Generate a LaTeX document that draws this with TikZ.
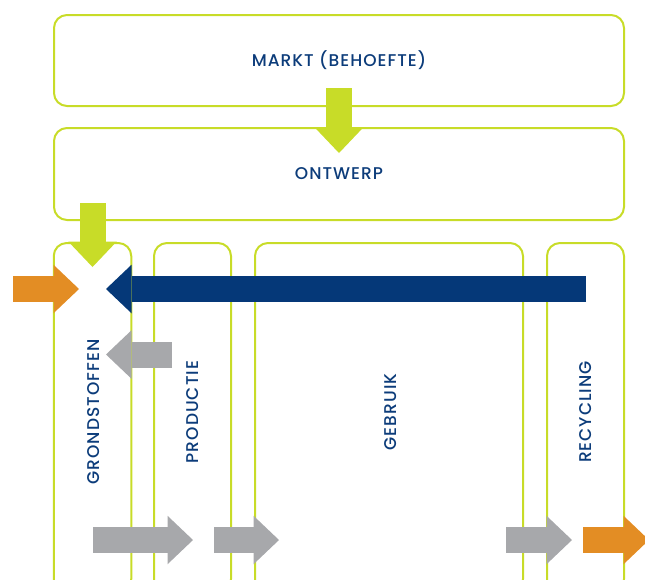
\documentclass[tikz,border=0pt]{standalone}
\usepackage{fontspec}
\setmainfont{Poppins}[UprightFont={* Medium},LetterSpace=6]
\usetikzlibrary{positioning,arrows.meta}
\definecolor{colorlime}  {RGB}{200,220, 40}
\definecolor{colornavy}  {RGB}{  5, 56,120}
\definecolor{colortext}  {RGB}{ 12, 60,122}
\definecolor{colororange}{RGB}{227,141, 36}
\definecolor{colorgrey}  {RGB}{167,168,171}

\begin{document}
\begin{tikzpicture}[
    x=1pt,y=-1pt,
    font={\fontsize{17}{20}\selectfont},
    stage/.style={draw=colorlime,line width=2pt,rounded corners=13pt,rectangle,inner sep=0pt,text=colortext},
    lbl/.style={text=colortext,inner sep=0pt,rotate=90},
    flow/.style={line width=26pt,-{Triangle[width=48.5pt,length=25.5pt,line width=0pt]}}
]

    \useasboundingbox (0,0) rectangle (645,579);
    \clip (0,0) rectangle (645,579);

    % boxes
    \node[stage,minimum width=570pt,minimum height=91pt] (markt) at (339,60.5) {MARKT (BEHOEFTE)};
    \node[stage,minimum width=570pt,minimum height=92pt] (ontwerp) at (339,174) {ONTWERP};

    \node[stage,minimum width=77.5pt,minimum height=349pt] (grond) at (92.5,417.5) {};
    \node[stage,minimum width=77pt,minimum height=349pt] (prod) at (192.5,417.5) {};
    \node[stage,minimum width=268pt,minimum height=349pt] (gebruik) at (389,417.5) {};
    \node[stage,minimum width=77pt,minimum height=349pt] (recycling) at (585.5,417.5) {};

    \node[lbl] (grondlbl) at (94,412) {GRONDSTOFFEN};
    \node[lbl] (prodlbl) at (193,412) {PRODUCTIE};
    \node[lbl] (gebruiklbl) at (391,412) {GEBRUIK};
    \node[lbl] (recyclinglbl) at (586,412) {RECYCLING};

    % arrows
    \coordinate (mOut) at (339,88);
    \coordinate (oIn) at (339,153);
    \coordinate (oOut) at (92.5,203);
    \coordinate (gIn) at (92.5,267);
    \coordinate (srcA) at (13,289);
    \coordinate (srcB) at (79,289);
    \coordinate (loopA) at (586,289);
    \coordinate (loopB) at (106,289);
    \coordinate (backA) at (172,354.5);
    \coordinate (backB) at (106,354.5);
    \coordinate (gpA) at (93,540);
    \coordinate (gpB) at (193,540);
    \coordinate (pgA) at (214,540);
    \coordinate (pgB) at (279,540);
    \coordinate (grA) at (506,540);
    \coordinate (grB) at (572,540);
    \coordinate (outA) at (583,540);
    \coordinate (outB) at (649,540);

    \draw[flow,colorlime] (mOut) -- (oIn);
    \draw[flow,colorlime] (oOut) -- (gIn);
    \draw[flow,colororange] (srcA) -- (srcB);
    \draw[flow,colornavy] (loopA) -- (loopB);
    \draw[flow,colorgrey] (backA) -- (backB);
    \draw[flow,colorgrey] (gpA) -- (gpB);
    \draw[flow,colorgrey] (pgA) -- (pgB);
    \draw[flow,colorgrey] (grA) -- (grB);
    \draw[flow,colororange] (outA) -- (outB);

\end{tikzpicture}
\end{document}
